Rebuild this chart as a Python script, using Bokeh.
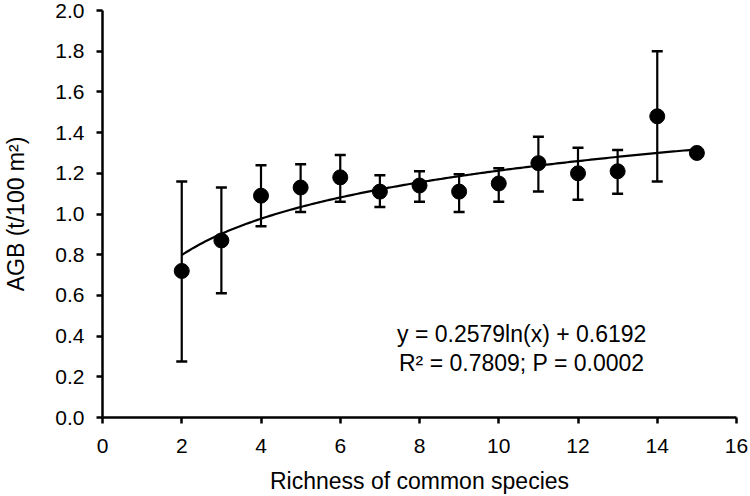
import numpy as np
from bokeh.plotting import figure
from bokeh.models import ColumnDataSource, Whisker, TeeHead, Label, FixedTicker, PrintfTickFormatter
from bokeh.embed import file_html
from bokeh.resources import INLINE

# Data
richness = [2, 3, 4, 5, 6, 7, 8, 9, 10, 11, 12, 13, 14, 15]
agb_mean = [0.72, 0.87, 1.09, 1.13, 1.18, 1.11, 1.14, 1.11, 1.15, 1.25, 1.20, 1.21, 1.48, 1.30]
agb_upper = [1.16, 1.13, 1.24, 1.245, 1.29, 1.19, 1.21, 1.195, 1.225, 1.38, 1.325, 1.315, 1.80, None]
agb_lower = [0.275, 0.61, 0.94, 1.01, 1.06, 1.035, 1.06, 1.01, 1.06, 1.11, 1.07, 1.10, 1.16, None]

# Fitted logarithmic trend (coefficients printed on the chart)
fit_slope = 0.2579
fit_intercept = 0.6192
fit_x_min, fit_x_max = 2, 15

x_ticks = [0, 2, 4, 6, 8, 10, 12, 14, 16]
y_ticks = [0.0, 0.2, 0.4, 0.6, 0.8, 1.0, 1.2, 1.4, 1.6, 1.8, 2.0]

FONT = "Liberation Sans"

p = figure(width=750, height=496, x_range=(0, 16), y_range=(0, 2.0),
           output_backend="svg", toolbar_location=None,
           min_border_left=102, min_border_right=14, min_border_top=10, min_border_bottom=79)
p.outline_line_color = None
p.xgrid.visible = False
p.ygrid.visible = False
p.background_fill_color = "white"
p.border_fill_color = "white"

# trend curve
fx = np.linspace(fit_x_min, fit_x_max, 200)
fy = fit_slope * np.log(fx) + fit_intercept
p.line(fx, fy, line_color="black", line_width=2.2)

# error bars (only where available)
eb_x = [x for x, u in zip(richness, agb_upper) if u is not None]
eb_u = [u for u in agb_upper if u is not None]
eb_l = [l for l in agb_lower if l is not None]
eb_src = ColumnDataSource(dict(x=eb_x, upper=eb_u, lower=eb_l))
w = Whisker(base="x", upper="upper", lower="lower", source=eb_src,
            line_color="black", line_width=2.2,
            upper_head=TeeHead(size=11, line_color="black", line_width=2.5),
            lower_head=TeeHead(size=11, line_color="black", line_width=2.5))
p.add_layout(w)

# points
p.scatter(richness, agb_mean, size=15, fill_color="black", line_color="black")

# axes styling
for ax in (p.xaxis[0], p.yaxis[0]):
    ax.axis_line_width = 2.5
    ax.axis_line_color = "black"
    ax.major_tick_line_width = 2.5
    ax.major_tick_line_color = "black"
    ax.major_tick_out = 6
    ax.major_tick_in = 0
    ax.minor_tick_line_color = None
    ax.major_label_text_font = FONT
    ax.major_label_text_font_size = "21px"
    ax.major_label_text_color = "black"
    ax.axis_label_text_font = FONT
    ax.axis_label_text_font_size = "23px"
    ax.axis_label_text_font_style = "normal"
    ax.axis_label_text_color = "black"

p.xaxis.ticker = FixedTicker(ticks=x_ticks)
p.yaxis.ticker = FixedTicker(ticks=y_ticks)
p.yaxis.formatter = PrintfTickFormatter(format="%.1f")
p.xaxis.major_label_standoff = 15
p.yaxis.major_label_standoff = 12
p.xaxis.axis_label = "Richness of common species"
p.yaxis.axis_label = "AGB (t/100 m²)"
p.xaxis.axis_label_standoff = 12
p.yaxis.axis_label_standoff = 23

eq1 = Label(x=10.58, y=0.41, text="y = 0.2579ln(x) + 0.6192", text_align="center",
            text_baseline="middle", text_font=FONT, text_font_size="23px", text_color="black")
eq2 = Label(x=10.58, y=0.27, text="R² = 0.7809; P = 0.0002", text_align="center",
            text_baseline="middle", text_font=FONT, text_font_size="23px", text_color="black")
p.add_layout(eq1)
p.add_layout(eq2)

open("out.html", "w").write(file_html(p, INLINE))
